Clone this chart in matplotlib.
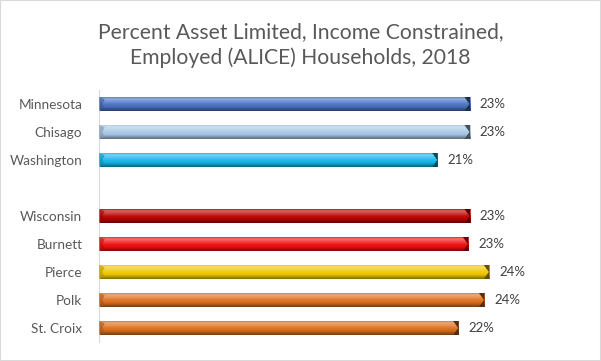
import matplotlib
matplotlib.use('Agg')
import matplotlib.pyplot as plt
import numpy as np
from matplotlib.colors import to_rgb
from matplotlib.patches import Rectangle, Polygon

plt.rcParams['font.family'] = ['Lato', 'DejaVu Sans']

# data (top to bottom, blank row separates MN and WI groups)
places = ['Minnesota', 'Chisago', 'Washington', '', 'Wisconsin', 'Burnett', 'Pierce', 'Polk', 'St. Croix']
pct = [23.0, 23.0, 21.0, np.nan, 23.0, 22.9, 24.2, 23.9, 22.3]
bar_colors = ['#4a72c4', '#a9c8e6', '#12b8e8', '#ffffff', '#c00000', '#f01010', '#f0c800', '#e07020', '#d8701e']

title = "Percent Asset Limited, Income Constrained,\nEmployed (ALICE) Households, 2018"


def shade(c, v):
    base = np.array(to_rgb(c))
    if v >= 0:
        return base + (1 - base) * v
    return base * (1 + v)


def bevel(c, n=40):
    # vertical shading: light rim on top, dark underside
    t = np.linspace(0, 1, n)
    k = np.interp(t, [0, 0.12, 0.3, 0.5, 0.7, 0.88, 1.0],
                  [0.1, 0.4, 0.25, 0.05, -0.05, -0.3, -0.45])
    return np.array([shade(c, v) for v in k])[:, None, :]


fig = plt.figure(figsize=(6.01, 3.61), dpi=100)
fig.patches.append(Rectangle((0, 0), 1, 1, transform=fig.transFigure, fill=False,
                             edgecolor='#d9d9d9', linewidth=1.5))

ax = fig.add_axes([99 / 601, 1 - 342 / 361, 484 / 601, 252 / 361])
y = np.arange(len(places))
h = 0.5
cap = 0.35

for yi, v, c in zip(y, pct, bar_colors):
    if np.isnan(v):
        continue
    ax.imshow(bevel(c), extent=[0, v, yi + h / 2, yi - h / 2], aspect='auto',
              interpolation='bilinear', zorder=2)
    # beveled end caps
    ax.add_patch(Polygon([(v - cap, yi - h / 2), (v, yi - h / 2), (v, yi + h / 2), (v - cap, yi + h / 2), (v - cap * 0.1, yi)],
                         closed=True, facecolor=shade(c, -0.6), edgecolor='none', zorder=3))
    ax.add_patch(Polygon([(0, yi - h / 2), (cap, yi - h / 2 + 0.08), (cap * 0.6, yi), (cap, yi + h / 2 - 0.08), (0, yi + h / 2)],
                         closed=True, facecolor=shade(c, -0.25), edgecolor='none', alpha=0.6, zorder=3))
    ax.annotate(f"{v:.0f}%", xy=(v, yi), xytext=(7, 0), textcoords='offset points',
                va='center', ha='left', fontsize=9.5, color='#404040')

ax.set_xlim(0, 30)
ax.set_ylim(len(places) - 0.5, -0.5)
ax.set_yticks(y)
ax.set_yticklabels(places, fontsize=9.8, color='#595959')
ax.tick_params(axis='y', length=0, pad=12)
ax.set_xticks([])
for s in ['top', 'right', 'bottom']:
    ax.spines[s].set_visible(False)
ax.spines['left'].set_color('#d9d9d9')

fig.text(0.5, 1 - 45 / 361, title, ha='center', va='center', fontsize=15.2,
         color='#595959', linespacing=1.35)

fig.savefig('out.png', dpi=100)
